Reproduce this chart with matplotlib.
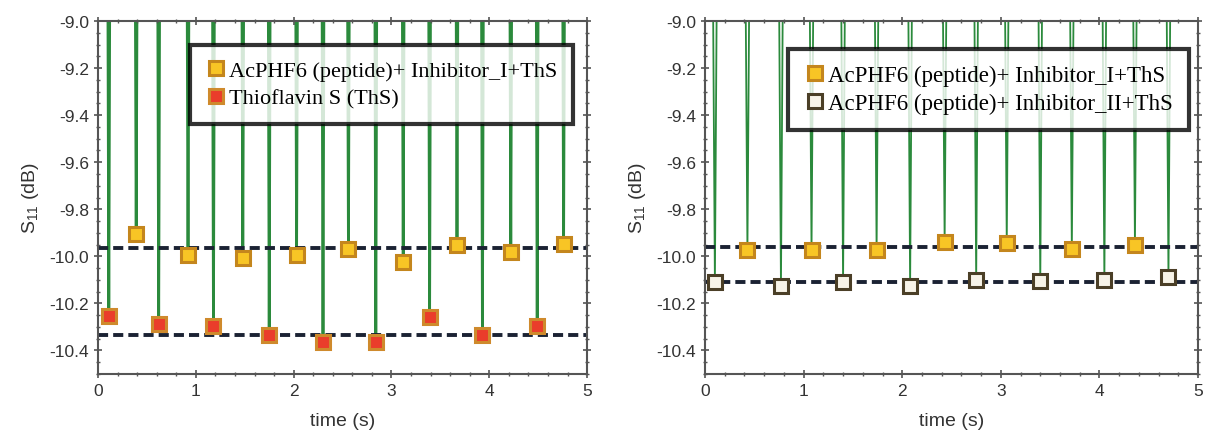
import numpy as np
import matplotlib
matplotlib.use('Agg')
import matplotlib.pyplot as plt
from matplotlib.ticker import MultipleLocator

plt.rcParams['font.family'] = ['Liberation Sans', 'DejaVu Sans']
plt.rcParams['mathtext.fontset'] = 'custom'
plt.rcParams['mathtext.rm'] = 'Liberation Sans'
plt.rcParams['mathtext.it'] = 'Liberation Sans:italic'

# left panel: ThS vs peptide + inhibitor I
t_inh1_a = [0.39, 0.92, 1.48, 2.03, 2.56, 3.12, 3.67, 4.22, 4.76]
s_inh1_a = [-9.903, -9.996, -10.006, -9.993, -9.967, -10.024, -9.950, -9.982, -9.946]
t_ths = [0.11, 0.62, 1.18, 1.75, 2.30, 2.84, 3.39, 3.93, 4.49]
s_ths = [-10.255, -10.286, -10.298, -10.333, -10.365, -10.365, -10.258, -10.336, -10.298]
ref_left = [-9.963, -10.335]

# right panel: inhibitor I vs inhibitor II
t_inh1_b = [0.43, 1.08, 1.74, 2.43, 3.06, 3.72, 4.36]
s_inh1_b = [-9.975, -9.975, -9.975, -9.940, -9.943, -9.970, -9.950]
t_inh2 = [0.10, 0.77, 1.40, 2.08, 2.75, 3.40, 4.05, 4.70]
s_inh2 = [-10.110, -10.126, -10.110, -10.126, -10.100, -10.105, -10.100, -10.088]
ref_right = [-9.960, -10.109]

lab_inh1 = 'AcPHF6 (peptide)+ Inhibitor_I+ThS'
lab_inh2 = 'AcPHF6 (peptide)+ Inhibitor_II+ThS'
lab_ths = 'Thioflavin S (ThS)'

YELLOW = dict(marker='s', ms=10, mfc='#f8c525', mec='#c4861d', mew=2.2, ls='none')
RED = dict(marker='s', ms=10, mfc='#ea3d2b', mec='#cf8a2c', mew=2.2, ls='none')
HOLLOW = dict(marker='s', ms=10, mfc='#f7f3e8', mec='#4b3f27', mew=2.2, ls='none')


def spikes(ax, times, mins, w, lw):
    # each resonance dip drawn as a narrow V from above the window down to its minimum
    for t, m in zip(times, mins):
        ax.plot([t - w, t, t + w], [-8.5, m, -8.5], color='#2b8a3c', lw=lw,
                solid_joinstyle='miter', zorder=1)


def style(ax):
    ax.set_xlim(0, 5)
    ax.set_ylim(-10.5, -9.0)
    ax.xaxis.set_major_locator(MultipleLocator(1))
    ax.xaxis.set_minor_locator(MultipleLocator(0.2))
    ax.yaxis.set_major_locator(MultipleLocator(0.2))
    ax.yaxis.set_minor_locator(MultipleLocator(0.05))
    ax.yaxis.set_major_formatter(plt.FuncFormatter(lambda v, p: f'{v:.1f}'))
    ax.tick_params(which='both', direction='inout', top=True, right=True,
                   colors='#555555', labelcolor='#333333', labelsize=12.5)
    ax.tick_params(which='major', length=6, width=1.2)
    ax.tick_params(which='minor', length=3, width=1)
    for sp in ax.spines.values():
        sp.set_color('#555555')
        sp.set_linewidth(1.5)
    ax.set_xlabel('time (s)', fontsize=14, color='#333333', labelpad=10)
    ax.set_ylabel('S$_{11}$ (dB)', fontsize=14, color='#333333', labelpad=6)


def legend(ax, bbox, size):
    leg = ax.legend(loc='upper right', bbox_to_anchor=bbox, frameon=True, fancybox=False,
                    prop={'family': 'Liberation Serif', 'size': size},
                    handletextpad=0.15, handlelength=0.9, borderpad=0.7,
                    labelspacing=0.3, borderaxespad=0)
    fr = leg.get_frame()
    fr.set_edgecolor('black')
    fr.set_linewidth(3)
    leg.set_zorder(10)


fig = plt.figure(figsize=(12.06, 4.39), dpi=100)
ax1 = fig.add_axes([0.0813, 0.1458, 0.4055, 0.804])
ax2 = fig.add_axes([0.5846, 0.1458, 0.4088, 0.804])

# left
spikes(ax1, t_inh1_a, s_inh1_a, 0.012, 2.0)
spikes(ax1, t_ths, s_ths, 0.012, 2.0)
for r in ref_left:
    ax1.axhline(r, color='#1b2233', lw=2.8, dashes=(2.6, 1.3), zorder=2)
ax1.plot(t_inh1_a, s_inh1_a, label=lab_inh1, zorder=3, **YELLOW)
ax1.plot(t_ths, s_ths, label=lab_ths, zorder=3, **RED)
style(ax1)
legend(ax1, (0.971, 0.932), 16)

# right
spikes(ax2, t_inh1_b, s_inh1_b, 0.025, 1.3)
spikes(ax2, t_inh2, s_inh2, 0.025, 1.3)
for r in ref_right:
    ax2.axhline(r, color='#1b2233', lw=2.8, dashes=(2.6, 1.3), zorder=2)
ax2.plot(t_inh1_b, s_inh1_b, label=lab_inh1, zorder=3, **YELLOW)
ax2.plot(t_inh2, s_inh2, label=lab_inh2, zorder=3, **HOLLOW)
style(ax2)
legend(ax2, (0.982, 0.921), 16.5)

fig.savefig('out.png', dpi=100)
